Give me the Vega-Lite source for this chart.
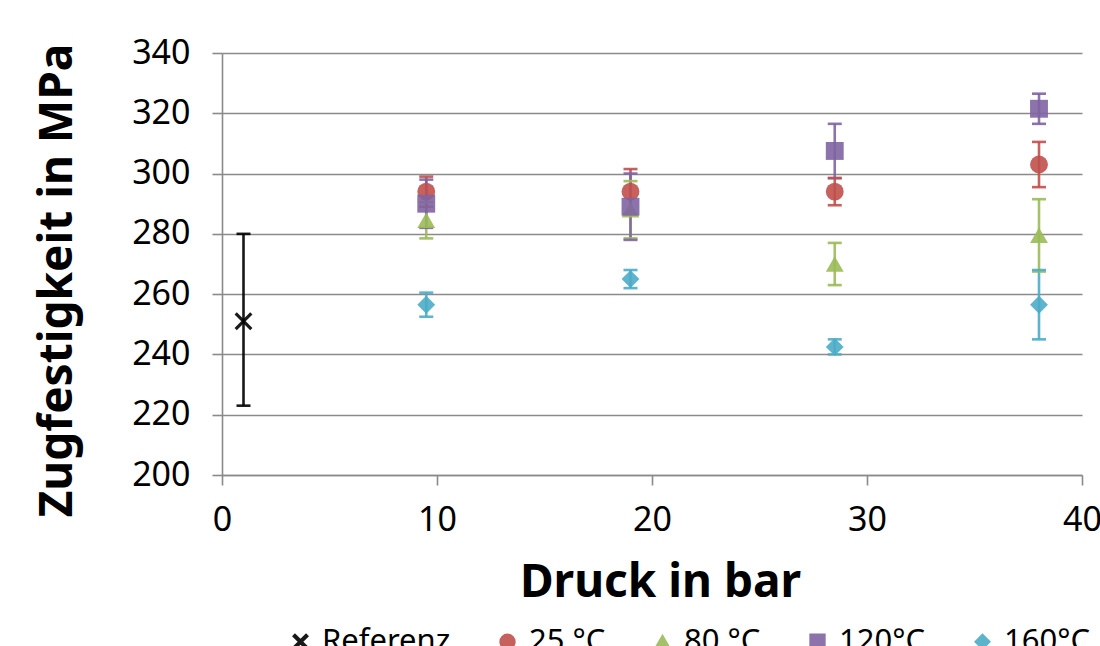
{
  "$schema": "https://vega.github.io/schema/vega-lite/v6.json",
  "width": 860,
  "height": 422,
  "autosize": {"type": "none"},
  "padding": {"left": 222, "top": 53, "right": 18, "bottom": 171},
  "background": "white",
  "config": {
    "view": {"stroke": null},
    "font": "Noto Sans",
    "axis": {
      "labelFont": "Noto Sans",
      "labelFontSize": 34,
      "labelColor": "#000000",
      "titleFont": "Noto Sans",
      "titleFontSize": 46,
      "titleFontWeight": "bold",
      "titleColor": "#000000",
      "gridColor": "#8a8a8a",
      "gridWidth": 1.6,
      "domainColor": "#8a8a8a",
      "domainWidth": 1.6,
      "tickColor": "#8a8a8a",
      "tickWidth": 1.6,
      "tickSize": 10
    },
    "legend": {
      "labelFont": "Noto Sans",
      "labelFontSize": 31,
      "labelColor": "#000000"
    }
  },
  "data": {
    "values": [
      {"serie": "Referenz", "druck": 1, "wert": 251, "lo": 223, "hi": 280},
      {"serie": "25 °C", "druck": 9.5, "wert": 294, "lo": 289, "hi": 299},
      {"serie": "80 °C", "druck": 9.5, "wert": 284.5, "lo": 278.5, "hi": 290.5},
      {"serie": "120°C", "druck": 9.5, "wert": 290, "lo": 282, "hi": 298},
      {"serie": "160°C", "druck": 9.5, "wert": 256.5, "lo": 252.5, "hi": 260.5},
      {"serie": "25 °C", "druck": 19, "wert": 294, "lo": 286.5, "hi": 301.5},
      {"serie": "80 °C", "druck": 19, "wert": 288, "lo": 278.5, "hi": 297.5},
      {"serie": "120°C", "druck": 19, "wert": 289, "lo": 278, "hi": 300},
      {"serie": "160°C", "druck": 19, "wert": 265, "lo": 262, "hi": 268},
      {"serie": "25 °C", "druck": 28.5, "wert": 294, "lo": 289.5, "hi": 298.5},
      {"serie": "80 °C", "druck": 28.5, "wert": 270, "lo": 263, "hi": 277},
      {"serie": "120°C", "druck": 28.5, "wert": 307.5, "lo": 298.5, "hi": 316.5},
      {"serie": "160°C", "druck": 28.5, "wert": 242.5, "lo": 240, "hi": 245},
      {"serie": "25 °C", "druck": 38, "wert": 303, "lo": 295.5, "hi": 310.5},
      {"serie": "80 °C", "druck": 38, "wert": 279.5, "lo": 267.5, "hi": 291.5},
      {"serie": "120°C", "druck": 38, "wert": 321.5, "lo": 316.5, "hi": 326.5},
      {"serie": "160°C", "druck": 38, "wert": 256.5, "lo": 245, "hi": 268}
    ]
  },
  "encoding": {
    "x": {
      "field": "druck",
      "type": "quantitative",
      "scale": {"domain": [0, 40], "nice": false, "zero": false},
      "axis": {
        "title": "Druck in bar",
        "values": [0, 10, 20, 30, 40],
        "grid": false,
        "labelFlush": false,
        "labelPadding": 18,
        "titleX": 438,
        "titleY": 121,
        "titleBaseline": "alphabetic"
      }
    }
  },
  "layer": [
    {
      "mark": {"type": "rule", "strokeWidth": 2.6, "opacity": 0.9},
      "encoding": {
        "y": {"field": "lo", "type": "quantitative"},
        "y2": {"field": "hi"},
        "color": {"field": "serie", "type": "nominal"}
      }
    },
    {
      "mark": {"type": "tick", "orient": "horizontal", "size": 14, "thickness": 2.6, "opacity": 0.9},
      "encoding": {
        "y": {"field": "lo", "type": "quantitative"},
        "color": {"field": "serie", "type": "nominal"}
      }
    },
    {
      "mark": {"type": "tick", "orient": "horizontal", "size": 14, "thickness": 2.6, "opacity": 0.9},
      "encoding": {
        "y": {"field": "hi", "type": "quantitative"},
        "color": {"field": "serie", "type": "nominal"}
      }
    },
    {
      "mark": {"type": "point", "filled": true, "opacity": 0.9, "size": 320},
      "encoding": {
        "y": {
          "field": "wert",
          "type": "quantitative",
          "scale": {"domain": [200, 340], "nice": false, "zero": false},
          "axis": {
            "title": "Zugfestigkeit in MPa",
            "values": [200, 220, 240, 260, 280, 300, 320, 340],
            "grid": true,
            "labelPadding": 22,
            "titleX": -141,
            "titleY": 227,
            "titleBaseline": "bottom"
          }
        },
        "color": {
          "field": "serie",
          "type": "nominal",
          "scale": {
            "domain": ["Referenz", "25 °C", "80 °C", "120°C", "160°C"],
            "range": ["#000000", "#C0504D", "#9BBB59", "#8064A2", "#4BACC6"]
          },
          "legend": {
            "title": null,
            "orient": "none",
            "legendX": 63,
            "legendY": 573,
            "direction": "horizontal",
            "columns": 5,
            "columnPadding": 41,
            "labelOffset": 6,
            "symbolSize": 220,
            "symbolOpacity": 0.9
          }
        },
        "shape": {
          "field": "serie",
          "type": "nominal",
          "scale": {
            "domain": ["Referenz", "25 °C", "80 °C", "120°C", "160°C"],
            "range": ["M-1,-0.75L-0.75,-1L0,-0.25L0.75,-1L1,-0.75L0.25,0L1,0.75L0.75,1L0,0.25L-0.75,1L-1,0.75L-0.25,0Z", "circle", "triangle-up", "square", "diamond"]
          },
          "legend": {
            "title": null,
            "orient": "none",
            "legendX": 63,
            "legendY": 573,
            "direction": "horizontal",
            "columns": 5,
            "columnPadding": 41,
            "labelOffset": 6,
            "symbolSize": 220,
            "symbolOpacity": 0.9
          }
        }
      }
    }
  ]
}
